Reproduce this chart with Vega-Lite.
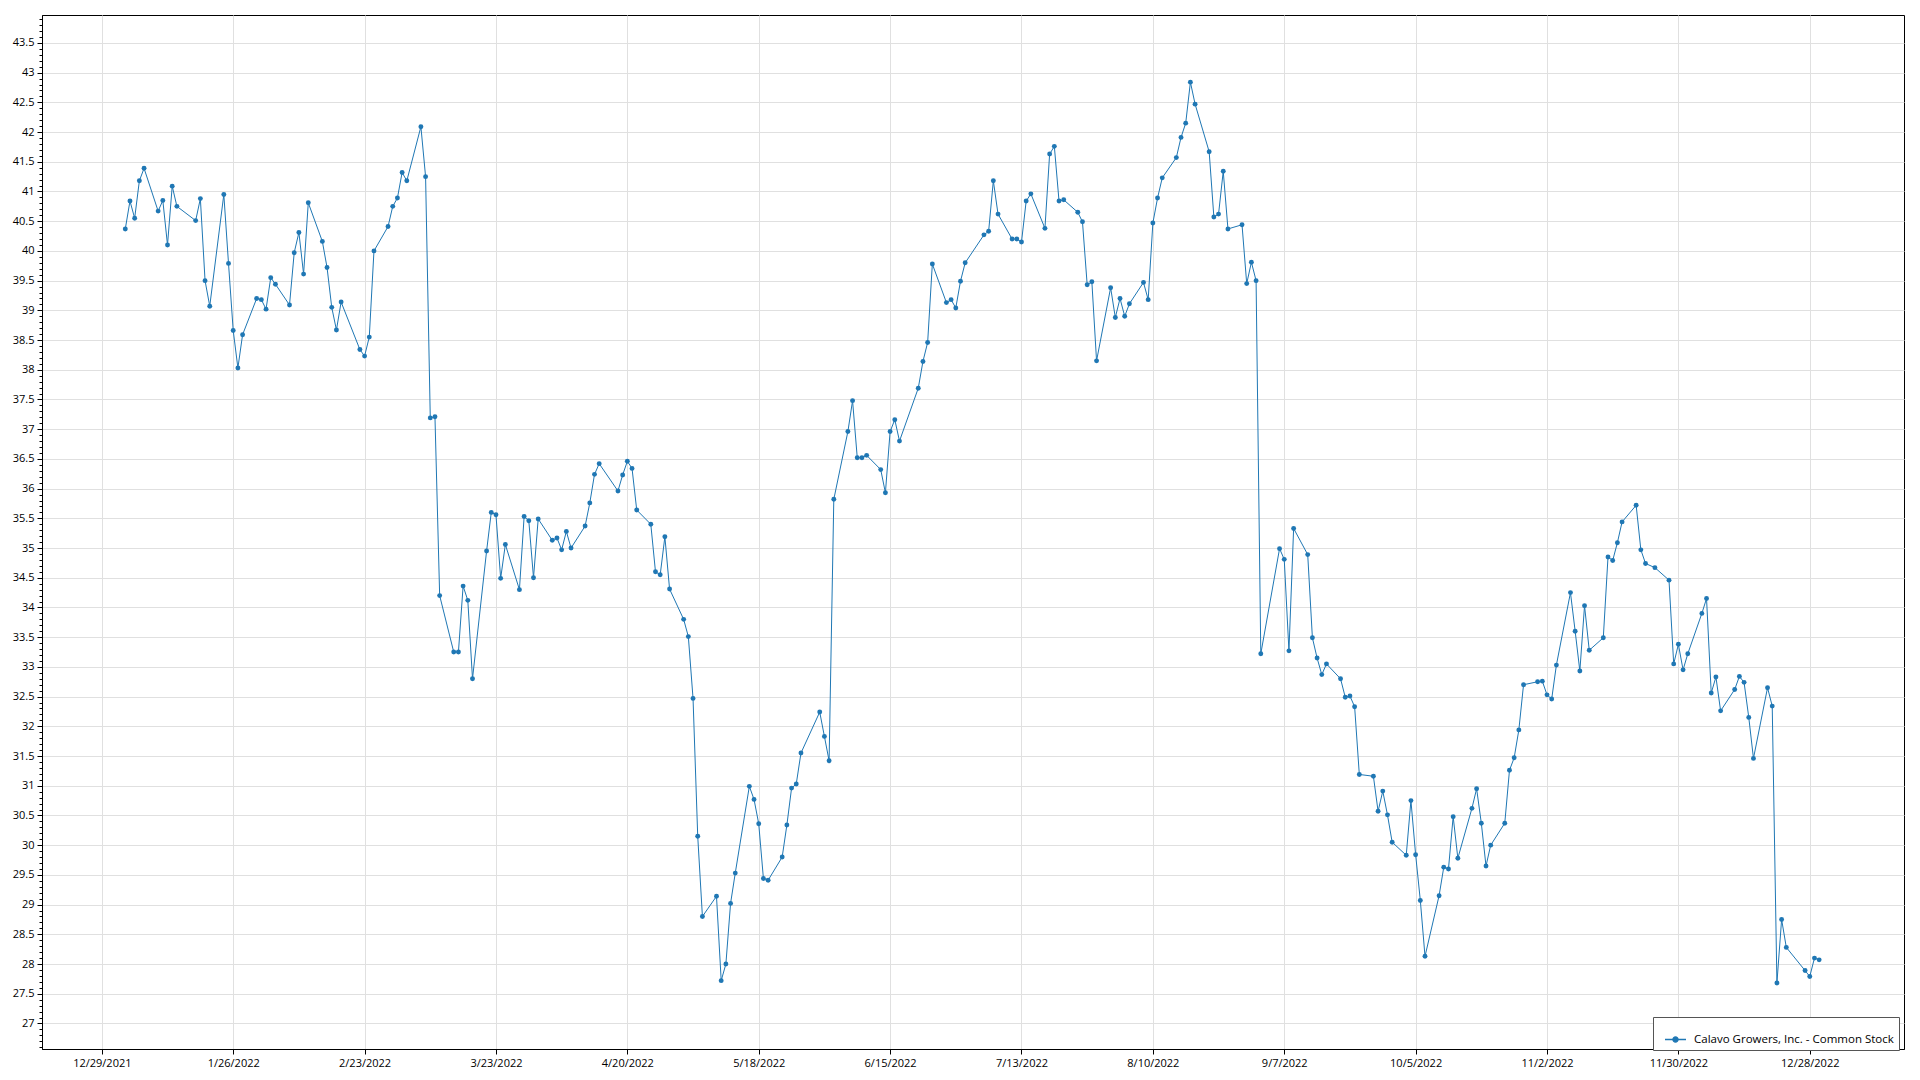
{
  "$schema": "https://vega.github.io/schema/vega-lite/v6.json",
  "width": 1862,
  "height": 1034,
  "autosize": {"type": "none"},
  "padding": {"left": 42, "top": 15, "right": 16, "bottom": 31},
  "background": "white",
  "config": {
    "view": {"stroke": "#000000", "strokeWidth": 1},
    "font": "Open Sans"
  },
  "data": {
    "values": [
      {"date": "2022-01-03", "price": 40.37}, {"date": "2022-01-04", "price": 40.84}, {"date": "2022-01-05", "price": 40.55}, {"date": "2022-01-06", "price": 41.18}, {"date": "2022-01-07", "price": 41.39},
      {"date": "2022-01-10", "price": 40.67}, {"date": "2022-01-11", "price": 40.85}, {"date": "2022-01-12", "price": 40.10}, {"date": "2022-01-13", "price": 41.09}, {"date": "2022-01-14", "price": 40.75},
      {"date": "2022-01-18", "price": 40.51}, {"date": "2022-01-19", "price": 40.88}, {"date": "2022-01-20", "price": 39.50}, {"date": "2022-01-21", "price": 39.07},
      {"date": "2022-01-24", "price": 40.95}, {"date": "2022-01-25", "price": 39.79}, {"date": "2022-01-26", "price": 38.66}, {"date": "2022-01-27", "price": 38.03}, {"date": "2022-01-28", "price": 38.59},
      {"date": "2022-01-31", "price": 39.20}, {"date": "2022-02-01", "price": 39.18}, {"date": "2022-02-02", "price": 39.02}, {"date": "2022-02-03", "price": 39.55}, {"date": "2022-02-04", "price": 39.44},
      {"date": "2022-02-07", "price": 39.09}, {"date": "2022-02-08", "price": 39.97}, {"date": "2022-02-09", "price": 40.31}, {"date": "2022-02-10", "price": 39.61}, {"date": "2022-02-11", "price": 40.81},
      {"date": "2022-02-14", "price": 40.16}, {"date": "2022-02-15", "price": 39.72}, {"date": "2022-02-16", "price": 39.05}, {"date": "2022-02-17", "price": 38.67}, {"date": "2022-02-18", "price": 39.14},
      {"date": "2022-02-22", "price": 38.34}, {"date": "2022-02-23", "price": 38.23}, {"date": "2022-02-24", "price": 38.55}, {"date": "2022-02-25", "price": 40.00},
      {"date": "2022-02-28", "price": 40.41}, {"date": "2022-03-01", "price": 40.75}, {"date": "2022-03-02", "price": 40.89}, {"date": "2022-03-03", "price": 41.32}, {"date": "2022-03-04", "price": 41.18},
      {"date": "2022-03-07", "price": 42.09}, {"date": "2022-03-08", "price": 41.25}, {"date": "2022-03-09", "price": 37.19}, {"date": "2022-03-10", "price": 37.21}, {"date": "2022-03-11", "price": 34.20},
      {"date": "2022-03-14", "price": 33.25}, {"date": "2022-03-15", "price": 33.25}, {"date": "2022-03-16", "price": 34.36}, {"date": "2022-03-17", "price": 34.12}, {"date": "2022-03-18", "price": 32.80},
      {"date": "2022-03-21", "price": 34.95}, {"date": "2022-03-22", "price": 35.60}, {"date": "2022-03-23", "price": 35.56}, {"date": "2022-03-24", "price": 34.49}, {"date": "2022-03-25", "price": 35.06},
      {"date": "2022-03-28", "price": 34.30}, {"date": "2022-03-29", "price": 35.53}, {"date": "2022-03-30", "price": 35.46}, {"date": "2022-03-31", "price": 34.50}, {"date": "2022-04-01", "price": 35.49},
      {"date": "2022-04-04", "price": 35.13}, {"date": "2022-04-05", "price": 35.17}, {"date": "2022-04-06", "price": 34.97}, {"date": "2022-04-07", "price": 35.28}, {"date": "2022-04-08", "price": 35.00},
      {"date": "2022-04-11", "price": 35.37}, {"date": "2022-04-12", "price": 35.76}, {"date": "2022-04-13", "price": 36.24}, {"date": "2022-04-14", "price": 36.42},
      {"date": "2022-04-18", "price": 35.96}, {"date": "2022-04-19", "price": 36.23}, {"date": "2022-04-20", "price": 36.46}, {"date": "2022-04-21", "price": 36.34}, {"date": "2022-04-22", "price": 35.64},
      {"date": "2022-04-25", "price": 35.40}, {"date": "2022-04-26", "price": 34.60}, {"date": "2022-04-27", "price": 34.55}, {"date": "2022-04-28", "price": 35.19}, {"date": "2022-04-29", "price": 34.31},
      {"date": "2022-05-02", "price": 33.80}, {"date": "2022-05-03", "price": 33.51}, {"date": "2022-05-04", "price": 32.47}, {"date": "2022-05-05", "price": 30.15}, {"date": "2022-05-06", "price": 28.80},
      {"date": "2022-05-09", "price": 29.14}, {"date": "2022-05-10", "price": 27.72}, {"date": "2022-05-11", "price": 28.00}, {"date": "2022-05-12", "price": 29.02}, {"date": "2022-05-13", "price": 29.53},
      {"date": "2022-05-16", "price": 30.99}, {"date": "2022-05-17", "price": 30.77}, {"date": "2022-05-18", "price": 30.36}, {"date": "2022-05-19", "price": 29.44}, {"date": "2022-05-20", "price": 29.41},
      {"date": "2022-05-23", "price": 29.80}, {"date": "2022-05-24", "price": 30.34}, {"date": "2022-05-25", "price": 30.96}, {"date": "2022-05-26", "price": 31.03}, {"date": "2022-05-27", "price": 31.55},
      {"date": "2022-05-31", "price": 32.24}, {"date": "2022-06-01", "price": 31.83}, {"date": "2022-06-02", "price": 31.42}, {"date": "2022-06-03", "price": 35.82},
      {"date": "2022-06-06", "price": 36.96}, {"date": "2022-06-07", "price": 37.48}, {"date": "2022-06-08", "price": 36.52}, {"date": "2022-06-09", "price": 36.52}, {"date": "2022-06-10", "price": 36.56},
      {"date": "2022-06-13", "price": 36.32}, {"date": "2022-06-14", "price": 35.93}, {"date": "2022-06-15", "price": 36.96}, {"date": "2022-06-16", "price": 37.16}, {"date": "2022-06-17", "price": 36.80},
      {"date": "2022-06-21", "price": 37.69}, {"date": "2022-06-22", "price": 38.14}, {"date": "2022-06-23", "price": 38.46}, {"date": "2022-06-24", "price": 39.78},
      {"date": "2022-06-27", "price": 39.13}, {"date": "2022-06-28", "price": 39.18}, {"date": "2022-06-29", "price": 39.04}, {"date": "2022-06-30", "price": 39.49}, {"date": "2022-07-01", "price": 39.80},
      {"date": "2022-07-05", "price": 40.27}, {"date": "2022-07-06", "price": 40.33}, {"date": "2022-07-07", "price": 41.18}, {"date": "2022-07-08", "price": 40.62},
      {"date": "2022-07-11", "price": 40.20}, {"date": "2022-07-12", "price": 40.20}, {"date": "2022-07-13", "price": 40.15}, {"date": "2022-07-14", "price": 40.84}, {"date": "2022-07-15", "price": 40.96},
      {"date": "2022-07-18", "price": 40.38}, {"date": "2022-07-19", "price": 41.63}, {"date": "2022-07-20", "price": 41.76}, {"date": "2022-07-21", "price": 40.84}, {"date": "2022-07-22", "price": 40.86},
      {"date": "2022-07-25", "price": 40.65}, {"date": "2022-07-26", "price": 40.49}, {"date": "2022-07-27", "price": 39.43}, {"date": "2022-07-28", "price": 39.48}, {"date": "2022-07-29", "price": 38.15},
      {"date": "2022-08-01", "price": 39.38}, {"date": "2022-08-02", "price": 38.88}, {"date": "2022-08-03", "price": 39.20}, {"date": "2022-08-04", "price": 38.90}, {"date": "2022-08-05", "price": 39.11},
      {"date": "2022-08-08", "price": 39.47}, {"date": "2022-08-09", "price": 39.18}, {"date": "2022-08-10", "price": 40.47}, {"date": "2022-08-11", "price": 40.89}, {"date": "2022-08-12", "price": 41.23},
      {"date": "2022-08-15", "price": 41.57}, {"date": "2022-08-16", "price": 41.91}, {"date": "2022-08-17", "price": 42.15}, {"date": "2022-08-18", "price": 42.84}, {"date": "2022-08-19", "price": 42.47},
      {"date": "2022-08-22", "price": 41.67}, {"date": "2022-08-23", "price": 40.57}, {"date": "2022-08-24", "price": 40.62}, {"date": "2022-08-25", "price": 41.34}, {"date": "2022-08-26", "price": 40.37},
      {"date": "2022-08-29", "price": 40.44}, {"date": "2022-08-30", "price": 39.45}, {"date": "2022-08-31", "price": 39.81}, {"date": "2022-09-01", "price": 39.50}, {"date": "2022-09-02", "price": 33.22},
      {"date": "2022-09-06", "price": 34.99}, {"date": "2022-09-07", "price": 34.81}, {"date": "2022-09-08", "price": 33.27}, {"date": "2022-09-09", "price": 35.33},
      {"date": "2022-09-12", "price": 34.89}, {"date": "2022-09-13", "price": 33.49}, {"date": "2022-09-14", "price": 33.15}, {"date": "2022-09-15", "price": 32.87}, {"date": "2022-09-16", "price": 33.05},
      {"date": "2022-09-19", "price": 32.80}, {"date": "2022-09-20", "price": 32.49}, {"date": "2022-09-21", "price": 32.51}, {"date": "2022-09-22", "price": 32.33}, {"date": "2022-09-23", "price": 31.19},
      {"date": "2022-09-26", "price": 31.16}, {"date": "2022-09-27", "price": 30.57}, {"date": "2022-09-28", "price": 30.91}, {"date": "2022-09-29", "price": 30.51}, {"date": "2022-09-30", "price": 30.05},
      {"date": "2022-10-03", "price": 29.83}, {"date": "2022-10-04", "price": 30.75}, {"date": "2022-10-05", "price": 29.84}, {"date": "2022-10-06", "price": 29.07}, {"date": "2022-10-07", "price": 28.13},
      {"date": "2022-10-10", "price": 29.15}, {"date": "2022-10-11", "price": 29.63}, {"date": "2022-10-12", "price": 29.60}, {"date": "2022-10-13", "price": 30.48}, {"date": "2022-10-14", "price": 29.78},
      {"date": "2022-10-17", "price": 30.62}, {"date": "2022-10-18", "price": 30.95}, {"date": "2022-10-19", "price": 30.37}, {"date": "2022-10-20", "price": 29.65}, {"date": "2022-10-21", "price": 30.00},
      {"date": "2022-10-24", "price": 30.37}, {"date": "2022-10-25", "price": 31.26}, {"date": "2022-10-26", "price": 31.47}, {"date": "2022-10-27", "price": 31.94}, {"date": "2022-10-28", "price": 32.70},
      {"date": "2022-10-31", "price": 32.75}, {"date": "2022-11-01", "price": 32.76}, {"date": "2022-11-02", "price": 32.53}, {"date": "2022-11-03", "price": 32.46}, {"date": "2022-11-04", "price": 33.03},
      {"date": "2022-11-07", "price": 34.25}, {"date": "2022-11-08", "price": 33.60}, {"date": "2022-11-09", "price": 32.93}, {"date": "2022-11-10", "price": 34.03}, {"date": "2022-11-11", "price": 33.28},
      {"date": "2022-11-14", "price": 33.49}, {"date": "2022-11-15", "price": 34.85}, {"date": "2022-11-16", "price": 34.79}, {"date": "2022-11-17", "price": 35.09}, {"date": "2022-11-18", "price": 35.44},
      {"date": "2022-11-21", "price": 35.72}, {"date": "2022-11-22", "price": 34.97}, {"date": "2022-11-23", "price": 34.74}, {"date": "2022-11-25", "price": 34.67},
      {"date": "2022-11-28", "price": 34.46}, {"date": "2022-11-29", "price": 33.05}, {"date": "2022-11-30", "price": 33.38}, {"date": "2022-12-01", "price": 32.95}, {"date": "2022-12-02", "price": 33.22},
      {"date": "2022-12-05", "price": 33.90}, {"date": "2022-12-06", "price": 34.15}, {"date": "2022-12-07", "price": 32.56}, {"date": "2022-12-08", "price": 32.83}, {"date": "2022-12-09", "price": 32.26},
      {"date": "2022-12-12", "price": 32.62}, {"date": "2022-12-13", "price": 32.84}, {"date": "2022-12-14", "price": 32.74}, {"date": "2022-12-15", "price": 32.15}, {"date": "2022-12-16", "price": 31.46},
      {"date": "2022-12-19", "price": 32.65}, {"date": "2022-12-20", "price": 32.34}, {"date": "2022-12-21", "price": 27.68}, {"date": "2022-12-22", "price": 28.75}, {"date": "2022-12-23", "price": 28.28},
      {"date": "2022-12-27", "price": 27.89}, {"date": "2022-12-28", "price": 27.79}, {"date": "2022-12-29", "price": 28.10}, {"date": "2022-12-30", "price": 28.07}
    ]
  },
  "mark": {
    "type": "line",
    "strokeWidth": 1,
    "point": {"filled": true, "size": 24, "opacity": 1}
  },
  "encoding": {
    "x": {
      "field": "date",
      "type": "temporal",
      "scale": {
        "type": "utc",
        "domain": [
          {"year": 2021, "month": 12, "date": 16, "hours": 6, "utc": true},
          {"year": 2023, "month": 1, "date": 17, "hours": 2, "utc": true}
        ]
      },
      "axis": {
        "title": null,
        "values": [
          {"year": 2021, "month": 12, "date": 29, "utc": true},
          {"year": 2022, "month": 1, "date": 26, "utc": true},
          {"year": 2022, "month": 2, "date": 23, "utc": true},
          {"year": 2022, "month": 3, "date": 23, "utc": true},
          {"year": 2022, "month": 4, "date": 20, "utc": true},
          {"year": 2022, "month": 5, "date": 18, "utc": true},
          {"year": 2022, "month": 6, "date": 15, "utc": true},
          {"year": 2022, "month": 7, "date": 13, "utc": true},
          {"year": 2022, "month": 8, "date": 10, "utc": true},
          {"year": 2022, "month": 9, "date": 7, "utc": true},
          {"year": 2022, "month": 10, "date": 5, "utc": true},
          {"year": 2022, "month": 11, "date": 2, "utc": true},
          {"year": 2022, "month": 11, "date": 30, "utc": true},
          {"year": 2022, "month": 12, "date": 28, "utc": true}
        ],
        "labelExpr": "utcFormat(datum.value, '%-m/%-d/%Y')",
        "labelFontSize": 11,
        "labelColor": "#000000",
        "labelFont": "Open Sans",
        "labelOverlap": false,
        "labelFlush": false,
        "labelPadding": 3,
        "tickSize": 5,
        "tickColor": "#000000",
        "domainColor": "#000000",
        "gridColor": "#e0e0e0",
        "grid": true
      }
    },
    "y": {
      "field": "price",
      "type": "quantitative",
      "scale": {"domain": [26.57, 43.97], "zero": false, "nice": false},
      "axis": {
        "title": null,
        "values": [26.6,26.7,26.8,26.9,27,27.1,27.2,27.3,27.4,27.5,27.6,27.7,27.8,27.9,28,28.1,28.2,28.3,28.4,28.5,28.6,28.7,28.8,28.9,29,29.1,29.2,29.3,29.4,29.5,29.6,29.7,29.8,29.9,30,30.1,30.2,30.3,30.4,30.5,30.6,30.7,30.8,30.9,31,31.1,31.2,31.3,31.4,31.5,31.6,31.7,31.8,31.9,32,32.1,32.2,32.3,32.4,32.5,32.6,32.7,32.8,32.9,33,33.1,33.2,33.3,33.4,33.5,33.6,33.7,33.8,33.9,34,34.1,34.2,34.3,34.4,34.5,34.6,34.7,34.8,34.9,35,35.1,35.2,35.3,35.4,35.5,35.6,35.7,35.8,35.9,36,36.1,36.2,36.3,36.4,36.5,36.6,36.7,36.8,36.9,37,37.1,37.2,37.3,37.4,37.5,37.6,37.7,37.8,37.9,38,38.1,38.2,38.3,38.4,38.5,38.6,38.7,38.8,38.9,39,39.1,39.2,39.3,39.4,39.5,39.6,39.7,39.8,39.9,40,40.1,40.2,40.3,40.4,40.5,40.6,40.7,40.8,40.9,41,41.1,41.2,41.3,41.4,41.5,41.6,41.7,41.8,41.9,42,42.1,42.2,42.3,42.4,42.5,42.6,42.7,42.8,42.9,43,43.1,43.2,43.3,43.4,43.5,43.6,43.7,43.8,43.9],
        "labelExpr": "abs(datum.value*2 - round(datum.value*2)) < 0.01 ? format(datum.value, '~f') : ''",
        "labelOverlap": false,
        "labelFlush": false,
        "labelFontSize": 11,
        "labelColor": "#000000",
        "labelFont": "Open Sans",
        "labelPadding": 3,
        "tickSize": {"condition": {"test": "abs(datum.value*2 - round(datum.value*2)) < 0.01", "value": 5}, "value": 3},
        "tickColor": "#000000",
        "domainColor": "#000000",
        "grid": true,
        "gridColor": "#e0e0e0",
        "gridOpacity": {"condition": {"test": "abs(datum.value*2 - round(datum.value*2)) < 0.01", "value": 1}, "value": 0}
      }
    },
    "color": {
      "datum": "Calavo Growers, Inc. - Common Stock",
      "type": "nominal",
      "scale": {"range": ["#1f77b4"]},
      "legend": {
        "title": null,
        "orient": "none",
        "legendX": 1611,
        "legendY": 1002,
        "padding": 5,
        "strokeColor": "#555555",
        "fillColor": "#ffffff",
        "labelFontSize": 11.5,
        "labelFont": "Open Sans",
        "labelColor": "#000000",
        "labelLimit": 400,
        "labelOffset": 1,
        "symbolType": "M-0.636,0L0.636,0M-0.15,0A0.15,0.15,0,1,1,0.15,0A0.15,0.15,0,1,1,-0.15,0Z",
        "symbolSize": 1089,
        "symbolStrokeWidth": 1.5,
        "symbolStrokeColor": "#1f77b4",
        "symbolFillColor": "#1f77b4",
        "encode": {"symbols": {"update": {"fill": {"value": "#1f77b4"}, "stroke": {"value": "#1f77b4"}, "opacity": {"value": 1}}}}
      }
    }
  }
}
